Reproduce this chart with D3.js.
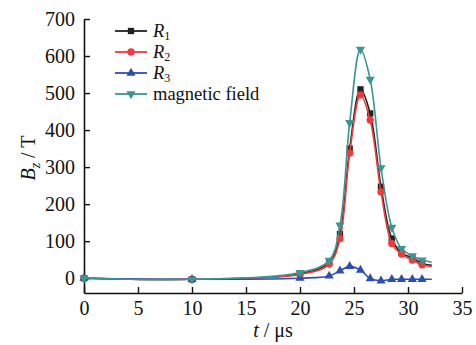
<!DOCTYPE html>
<html>
<head>
<meta charset="utf-8">
<script src="https://cdn.jsdelivr.net/npm/d3@7"></script>
<style>
  html, body { margin: 0; padding: 0; background: #fff; }
  svg { display: block; }
  text { font-family: "Liberation Serif", "DejaVu Serif", serif; fill: #111; }
</style>
</head>
<body>
<svg id="chart" width="476" height="345"></svg>
<script>
// Time samples (µs); the last sample closes each curve without a marker
const time = [0, 10, 20, 22.7, 23.7, 24.6, 25.6, 26.5, 27.5, 28.5, 29.4, 30.4, 31.3, 32.2];

// Bz (T) for each probe and for the magnetic field
const r1 = [0, -3, 12, 42, 119, 350, 510, 445, 247, 107, 68, 55, 40, 35];
const r2 = [0, -3, 10, 38, 107, 338, 495, 427, 233, 94, 65, 49, 36, 31];
const r3 = [0, -3, 0, 6, 20, 32, 22, -1, -7, -3, -3, -3, -3, -3];
const field = [0, -3, 15, 48, 143, 420, 618, 537, 298, 137, 80, 60, 49, 43];

const xTicks = [0, 5, 10, 15, 20, 25, 30, 35];
const yTicks = [0, 100, 200, 300, 400, 500, 600, 700];

const seriesNames = ["R1", "R2", "R3", "magnetic field"];

const series = [
  { name: seriesNames[0], values: r1, color: "#222222", symbol: d3.symbolSquare, size: 40, rot: 0 },
  { name: seriesNames[1], values: r2, color: "#f0393b", symbol: d3.symbolCircle, size: 42, rot: 0 },
  { name: seriesNames[2], values: r3, color: "#2c4fae", symbol: d3.symbolTriangle, size: 36, rot: 0 },
  { name: seriesNames[3], values: field, color: "#3a9690", symbol: d3.symbolTriangle, size: 36, rot: 180 }
];

const svg = d3.select("#chart");
const plotL = 84, plotR = 462, plotT = 19, plotB = 293;

const x = d3.scaleLinear().domain([0, 35]).range([plotL, plotR]);
const y = d3.scaleLinear().domain([-40, 700]).range([plotB, plotT]);

// Axes with inward ticks
const xAxis = d3.axisBottom(x).tickValues(xTicks).tickSizeInner(-6).tickSizeOuter(0).tickPadding(8);
const yAxis = d3.axisLeft(y).tickValues(yTicks).tickSizeInner(-6).tickSizeOuter(0).tickPadding(9);

const gx = svg.append("g").attr("transform", `translate(0,${plotB})`).call(xAxis);
const gy = svg.append("g").attr("transform", `translate(${plotL},0)`).call(yAxis);

[gx, gy].forEach(g => {
  g.select(".domain").attr("stroke", "#111").attr("stroke-width", 1.6);
  g.selectAll(".tick line").attr("stroke", "#111").attr("stroke-width", 1.4);
  g.selectAll(".tick text")
    .attr("font-family", "Liberation Serif, serif")
    .attr("font-size", 20)
    .attr("fill", "#111");
});

// Axis titles
const yt = svg.append("text")
  .attr("transform", `translate(35,158) rotate(-90)`)
  .attr("text-anchor", "middle")
  .attr("font-size", 20);
yt.append("tspan").attr("font-style", "italic").text("B");
yt.append("tspan").attr("font-style", "italic").attr("font-size", 14).attr("dy", 5).text("z");
yt.append("tspan").attr("dy", -5).text(" / T");

const xt = svg.append("text")
  .attr("x", x(17.5)).attr("y", 337)
  .attr("text-anchor", "middle")
  .attr("font-size", 20);
xt.append("tspan").attr("font-style", "italic").text("t");
xt.append("tspan").text(" / μs");

// Curves and markers
const line = d3.line()
  .x((d, i) => x(time[i]))
  .y(d => y(d))
  .curve(d3.curveCatmullRom.alpha(0.5));

series.forEach(s => {
  const g = svg.append("g");
  g.append("path")
    .attr("d", line(s.values))
    .attr("fill", "none")
    .attr("stroke", s.color)
    .attr("stroke-width", 1.6);
  const sym = d3.symbol().type(s.symbol).size(s.size);
  g.selectAll("path.m")
    .data(s.values.slice(0, -1))
    .join("path")
    .attr("class", "m")
    .attr("d", sym)
    .attr("fill", s.color)
    .attr("transform", (d, i) => `translate(${x(time[i])},${y(d)}) rotate(${s.rot})`);
});

// Legend
const legend = svg.append("g");
series.forEach((s, i) => {
  const ly = 31 + i * 21;
  legend.append("line")
    .attr("x1", 115).attr("x2", 147).attr("y1", ly).attr("y2", ly)
    .attr("stroke", s.color).attr("stroke-width", 1.8);
  legend.append("path")
    .attr("d", d3.symbol().type(s.symbol).size(s.size)())
    .attr("fill", s.color)
    .attr("transform", `translate(131,${ly}) rotate(${s.rot})`);
  const t = legend.append("text")
    .attr("x", 153).attr("y", ly + 6)
    .attr("font-size", 18.5);
  if (i < 3) {
    t.append("tspan").attr("font-style", "italic").text("R");
    t.append("tspan").attr("font-size", 12).attr("dy", 3).text(String(i + 1));
  } else {
    t.text(s.name);
  }
});
</script>
</body>
</html>
